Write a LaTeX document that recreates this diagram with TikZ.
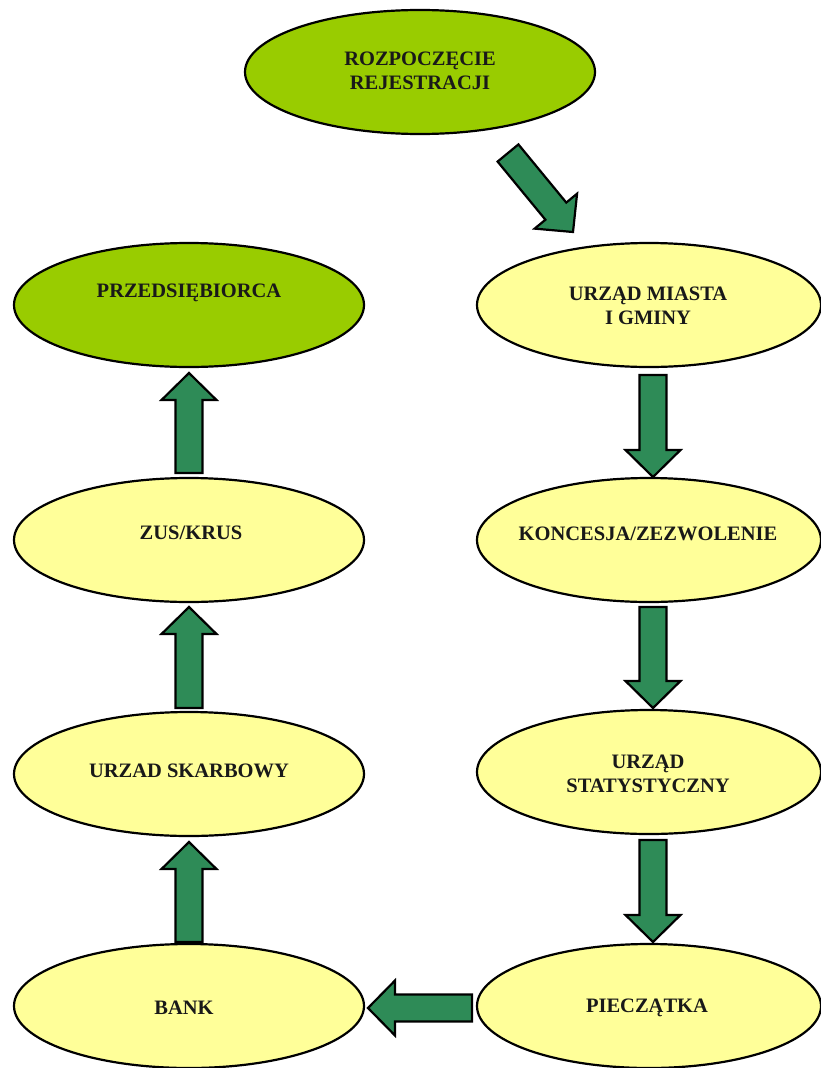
\documentclass[tikz,border=0pt]{standalone}
\usepackage{fontspec}
\setmainfont{Liberation Serif}
\usetikzlibrary{calc,shapes.geometric}
\definecolor{arrgreen}{RGB}{46,139,87}
\definecolor{limegreen}{RGB}{153,204,0}
\definecolor{paleyellow}{RGB}{255,255,153}
\tikzset{
  ell/.style={ellipse, draw=black, line width=2.2pt, minimum width=350pt, minimum height=124pt, inner sep=0pt},
  greenell/.style={ell, fill=limegreen},
  yellowell/.style={ell, fill=paleyellow},
  txt/.style={font=\bfseries\fontsize{20.5}{24}\selectfont, align=center, inner sep=0pt, text=black!90},
  barrow/.style={draw=black, line width=2.2pt, fill=arrgreen, line join=miter}
}
\newcommand{\blockarr}[2]{%
  \path ($(#2)!27pt!(#1)$) coordinate (hb);
  \draw[barrow] ($(#1)!13.5pt!-90:(#2)$) -- ($(hb)!13.5pt!-90:(#2)$) -- ($(hb)!27.5pt!-90:(#2)$)
    -- (#2) -- ($(hb)!27.5pt!90:(#2)$) -- ($(hb)!13.5pt!90:(#2)$) -- ($(#1)!13.5pt!90:(#2)$) -- cycle;
}
\begin{document}
\begin{tikzpicture}[x=1pt,y=-1pt]
\useasboundingbox (0,0) rectangle (821,1068);
% ellipses
\node[greenell] (start) at (420,72) {};
\node[txt] (starttxt) at (420,71) {ROZPOCZĘCIE\\REJESTRACJI};
\node[greenell] (przed) at (189,305) {};
\node[txt] (przedtxt) at (189,293) {PRZEDSIĘBIORCA};
\node[yellowell, minimum width=344pt] (miasto) at (649,305) {};
\node[txt] (miastotxt) at (648,306) {URZĄD MIASTA\\I GMINY};
\node[yellowell] (zus) at (189,540) {};
\node[txt] (zustxt) at (191,533) {ZUS/KRUS};
\node[yellowell, minimum width=344pt] (konc) at (649,540) {};
\node[txt] (konctxt) at (648,534) {KONCESJA/ZEZWOLENIE};
\node[yellowell] (skarb) at (189,774) {};
\node[txt] (skarbtxt) at (189,771) {URZAD SKARBOWY};
\node[yellowell, minimum width=344pt] (stat) at (649,772) {};
\node[txt] (stattxt) at (648,774) {URZĄD\\STATYSTYCZNY};
\node[yellowell] (bank) at (189,1006) {};
\node[txt] (banktxt) at (184,1008) {BANK};
\node[yellowell, minimum width=344pt] (piecz) at (649,1006) {};
\node[txt] (piecztxt) at (647,1008) {PIECZĄTKA};
% arrow end points
\coordinate (a1t) at (508,153); \coordinate (a1h) at (573,232);
\coordinate (a2t) at (653,375); \coordinate (a2h) at (653,477);
\coordinate (a3t) at (653,607); \coordinate (a3h) at (653,708);
\coordinate (a4t) at (653,840); \coordinate (a4h) at (653,942);
\coordinate (a5t) at (472,1008); \coordinate (a5h) at (368,1008);
\coordinate (a6t) at (189,942); \coordinate (a6h) at (189,842);
\coordinate (a7t) at (189,708); \coordinate (a7h) at (189,607);
\coordinate (a8t) at (189,473); \coordinate (a8h) at (189,373);
\blockarr{a1t}{a1h}
\blockarr{a2t}{a2h}
\blockarr{a3t}{a3h}
\blockarr{a4t}{a4h}
\blockarr{a5t}{a5h}
\blockarr{a6t}{a6h}
\blockarr{a7t}{a7h}
\blockarr{a8t}{a8h}
\end{tikzpicture}
\end{document}
